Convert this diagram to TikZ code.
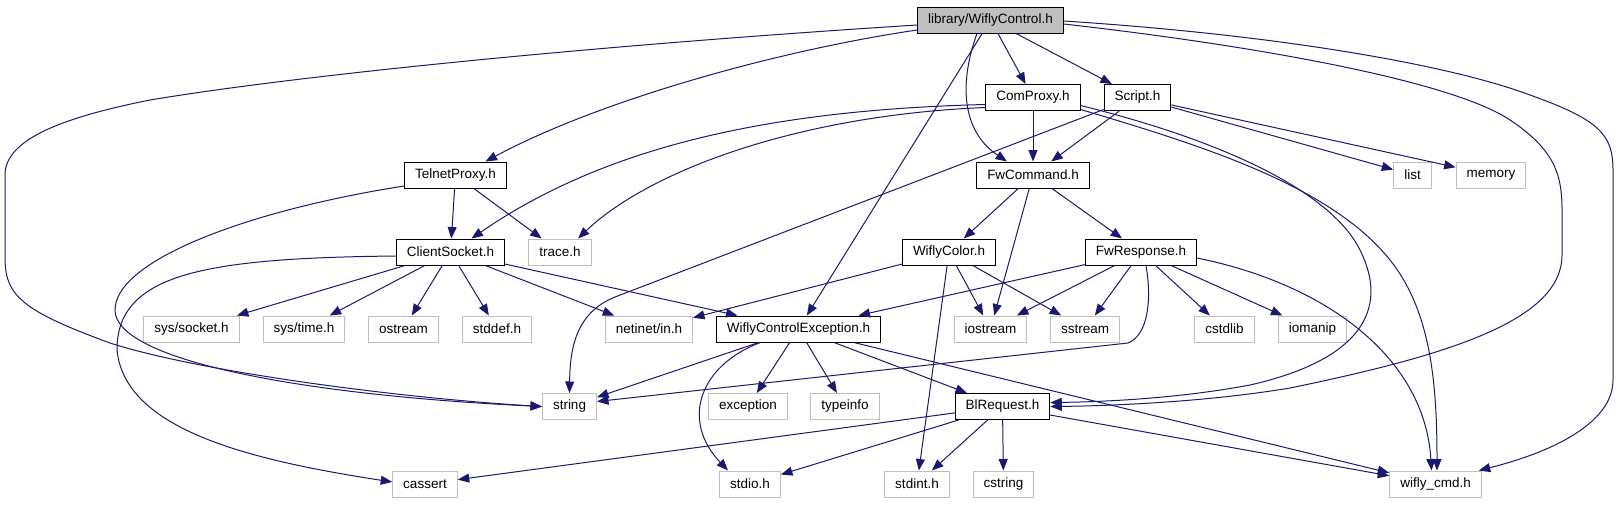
\documentclass[tikz,border=0pt]{standalone}
\usepackage{fontspec}
\setmainfont{Liberation Sans}
\usetikzlibrary{arrows.meta}
\definecolor{edgeblue}{HTML}{191970}
\definecolor{greyline}{RGB}{191,191,191}

\begin{document}
\begin{tikzpicture}[x=1pt,y=-1pt,
  file/.style={draw=black,line width=1pt,fill=white,inner xsep=10.5pt,inner ysep=0pt,
    minimum height=26pt,font=\fontsize{13.5}{16}\selectfont},
  extfile/.style={file,draw=greyline},
  rootfile/.style={file,fill=greyline},
  dep/.style={draw=edgeblue,line width=1pt,-{Triangle[length=11.5pt,width=9pt]}}]
\node[rootfile] (ctrl) at (990.5,20) {library/WiflyControl.h};
\node[file] (comproxy) at (1033,97.5) {ComProxy.h};
\node[file] (script) at (1137.5,97.5) {Script.h};
\node[file] (telnet) at (455.5,175) {TelnetProxy.h};
\node[file] (fwcmd) at (1033,175) {FwCommand.h};
\node[extfile] (list) at (1412.5,175) {list};
\node[extfile] (memory) at (1491,175) {memory};
\node[file] (csock) at (450.5,252) {ClientSocket.h};
\node[extfile] (trace) at (560,252) {trace.h};
\node[file] (wcolor) at (949,252) {WiflyColor.h};
\node[file] (fwresp) at (1141,252) {FwResponse.h};
\node[extfile] (syssock) at (191.5,329) {sys/socket.h};
\node[extfile] (systime) at (304,329) {sys/time.h};
\node[extfile] (ostream) at (403.5,329) {ostream};
\node[extfile] (stddef) at (497,329) {stddef.h};
\node[extfile] (netinet) at (649,329) {netinet/in.h};
\node[file] (wcexc) at (798.5,329) {WiflyControlException.h};
\node[extfile] (iostream) at (990.5,329) {iostream};
\node[extfile] (sstream) at (1085,329) {sstream};
\node[extfile] (cstdlib) at (1224.5,329) {cstdlib};
\node[extfile] (iomanip) at (1312.5,329) {iomanip};
\node[extfile] (string) at (569.5,406.5) {string};
\node[extfile] (exception) at (748,406.5) {exception};
\node[extfile] (typeinfo) at (845,406.5) {typeinfo};
\node[file] (blreq) at (1002.5,406.5) {BlRequest.h};
\node[extfile] (cassert) at (425,484) {cassert};
\node[extfile] (stdio) at (750,484) {stdio.h};
\node[extfile] (stdint) at (917,484) {stdint.h};
\node[extfile] (cstring) at (1003.5,484) {cstring};
\node[extfile] (wcmd) at (1435.5,484) {wifly\_cmd.h};
% library/WiflyControl.h
\draw[dep] ([yshift=-5pt]ctrl.west) .. controls (600,45) and (300,75) .. (150,100) .. controls (60,118) and (5,140) .. (5,175) -- (5,257) .. controls (5,295) and (20,310) .. (110,343) .. controls (200,372) and (400,398) .. (string.west);
\draw[dep] ([yshift=-10pt]ctrl.west) .. controls (780,50) and (600,100) .. ([xshift=30pt]telnet.north);
\draw[dep] (ctrl) -- (wcexc);
\draw[dep] ([xshift=-13.5pt]ctrl.south) .. controls (960,80) and (960,130) .. ([xshift=-26pt]fwcmd.north);
\draw[dep] (ctrl) -- (comproxy);
\draw[dep] (ctrl) -- (script);
\draw[dep] ([yshift=-4pt]ctrl.east) .. controls (1250,45) and (1450,80) .. (1510,120) .. controls (1555,150) and (1562,175) .. (1562,210) -- (1562,255) .. controls (1562,320) and (1450,355) .. (1290,388) .. controls (1200,403) and (1100,406) .. (blreq.east);
\draw[dep] ([yshift=-1pt]ctrl.east) .. controls (1280,35) and (1450,65) .. (1530,95) .. controls (1600,120) and (1613,135) .. (1613,170) -- (1613,380) .. controls (1613,420) and (1560,450) .. ([xshift=-3pt]wcmd.north east);
% ComProxy.h
\draw[dep] (comproxy) -- (fwcmd);
\draw[dep] ([yshift=-7pt]comproxy.west) .. controls (760,110) and (600,150) .. ([xshift=21pt]csock.north);
\draw[dep] ([yshift=-10pt]comproxy.west) .. controls (800,115) and (650,170) .. ([xshift=18pt]trace.north);
\draw[dep] ([yshift=-8pt]comproxy.east) .. controls (1220,140) and (1330,190) .. (1360,250) .. controls (1390,310) and (1360,360) .. (1250,385) .. controls (1170,400) and (1090,402) .. ([yshift=4pt]blreq.east);
\draw[dep] ([yshift=-12pt]comproxy.east) .. controls (1200,145) and (1330,185) .. (1390,260) .. controls (1430,310) and (1437,380) .. ([xshift=1.5pt]wcmd.north);
% Script.h
\draw[dep] (script) -- (fwcmd);
\draw[dep] ([yshift=-12pt]script.west) -- (615,297) .. controls (575,313) and (570,350) .. (string.north);
\draw[dep] (script) -- (list);
\draw[dep] (script) -- (memory);
% TelnetProxy.h
\draw[dep] (telnet) -- (csock);
\draw[dep] (telnet) -- (trace);
\draw[dep] ([yshift=-11pt]telnet.west) .. controls (250,210) and (115,260) .. (115,310) .. controls (115,360) and (300,395) .. (string.west);
% FwCommand.h
\draw[dep] (fwcmd) -- (wcolor);
\draw[dep] (fwcmd) -- (fwresp);
\draw[dep] (fwcmd) -- (iostream);
% ClientSocket.h
\draw[dep] (csock) -- (syssock);
\draw[dep] (csock) -- (systime);
\draw[dep] (csock) -- (ostream);
\draw[dep] (csock) -- (stddef);
\draw[dep] (csock) -- (netinet);
\draw[dep] (csock) -- (wcexc);
\draw[dep] ([yshift=-4pt]csock.west) .. controls (200,258) and (117,275) .. (117,350) .. controls (125,430) and (250,460) .. ([yshift=2pt]cassert.west);
% WiflyColor.h
\draw[dep] (wcolor) -- (netinet);
\draw[dep] (wcolor) -- (iostream);
\draw[dep] (wcolor) -- (sstream);
\draw[dep] (wcolor) -- (stdint);
% FwResponse.h
\draw[dep] (fwresp) -- (wcexc);
\draw[dep] (fwresp) -- (iostream);
\draw[dep] (fwresp) -- (sstream);
\draw[dep] ([xshift=5pt]fwresp.south) .. controls (1152,300) and (1148,335) .. (1128,343) -- ([yshift=5pt]string.east);
\draw[dep] (fwresp) -- (cstdlib);
\draw[dep] (fwresp) -- (iomanip);
\draw[dep] ([yshift=-6pt]fwresp.east) .. controls (1330,285) and (1425,360) .. ([xshift=-4pt]wcmd.north);
% WiflyControlException.h
\draw[dep] (wcexc) -- (string);
\draw[dep] ([xshift=-38pt]wcexc.south) .. controls (700,365) and (680,420) .. ([xshift=-22pt]stdio.north);
\draw[dep] (wcexc) -- (exception);
\draw[dep] (wcexc) -- (typeinfo);
\draw[dep] (wcexc) -- (blreq);
\draw[dep] (wcexc) -- (wcmd);
% BlRequest.h
\draw[dep] (blreq) -- (cassert);
\draw[dep] (blreq) -- (stdio);
\draw[dep] (blreq) -- (stdint);
\draw[dep] (blreq) -- (cstring);
\draw[dep] (blreq) -- (wcmd);
\path (0,0) rectangle (1619,504);
\end{tikzpicture}
\end{document}
